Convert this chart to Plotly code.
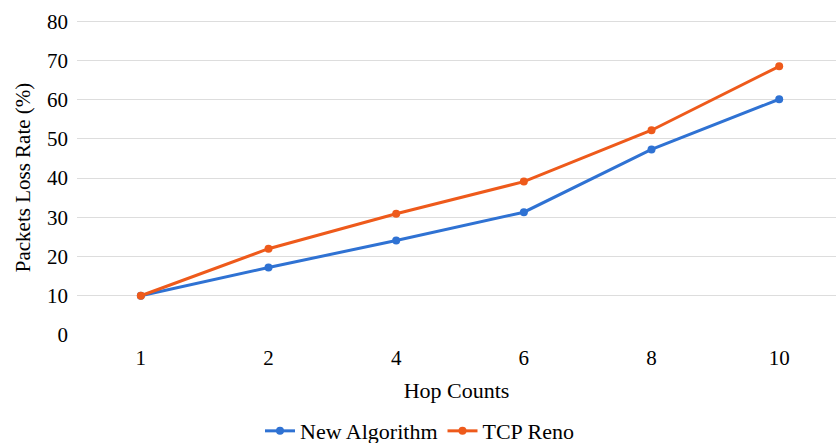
import plotly.graph_objects as go

hops = ["1", "2", "4", "6", "8", "10"]
new_algorithm = [10.0, 17.2, 24.1, 31.3, 47.3, 60.1]
tcp_reno = [10.0, 22.0, 30.9, 39.1, 52.2, 68.5]

FONT = "Liberation Serif, Times New Roman, serif"
BLUE = "#2F72D3"
ORANGE = "#EE5A1B"

fig = go.Figure()
fig.add_trace(go.Scatter(x=hops, y=new_algorithm, name="New Algorithm", mode="lines+markers",
                         line=dict(color=BLUE, width=3), marker=dict(color=BLUE, size=8)))
fig.add_trace(go.Scatter(x=hops, y=tcp_reno, name="TCP Reno", mode="lines+markers",
                         line=dict(color=ORANGE, width=3), marker=dict(color=ORANGE, size=8)))

fig.update_layout(
    width=839, height=443,
    margin=dict(l=77, r=3, t=20, b=108, autoexpand=False),
    paper_bgcolor="white", plot_bgcolor="white",
    font=dict(family=FONT, size=21, color="black"),
    xaxis=dict(type="category", range=[-0.5, 5.445], showgrid=False, zeroline=False,
               showline=False, ticks="outside", ticklen=4, tickcolor="rgba(0,0,0,0)",
               tickfont=dict(size=21), automargin=False,
               title=dict(text="Hop Counts", font=dict(size=22), standoff=13)),
    yaxis=dict(range=[0, 80.3], dtick=10, tick0=0, showgrid=True, gridcolor="#DDDDDD",
               gridwidth=1.3, zeroline=False, showline=False, ticks="", automargin=False,
               tickfont=dict(size=21), ticklabelstandoff=8,
               title=dict(text="Packets Loss Rate (%)", font=dict(size=21), standoff=10)),
    legend=dict(orientation="h", x=0.5, xanchor="center", xref="container",
                y=0.027, yanchor="middle", yref="container",
                font=dict(size=22), itemwidth=30, tracegroupgap=0),
    showlegend=True,
)

fig.write_html("out.html")
